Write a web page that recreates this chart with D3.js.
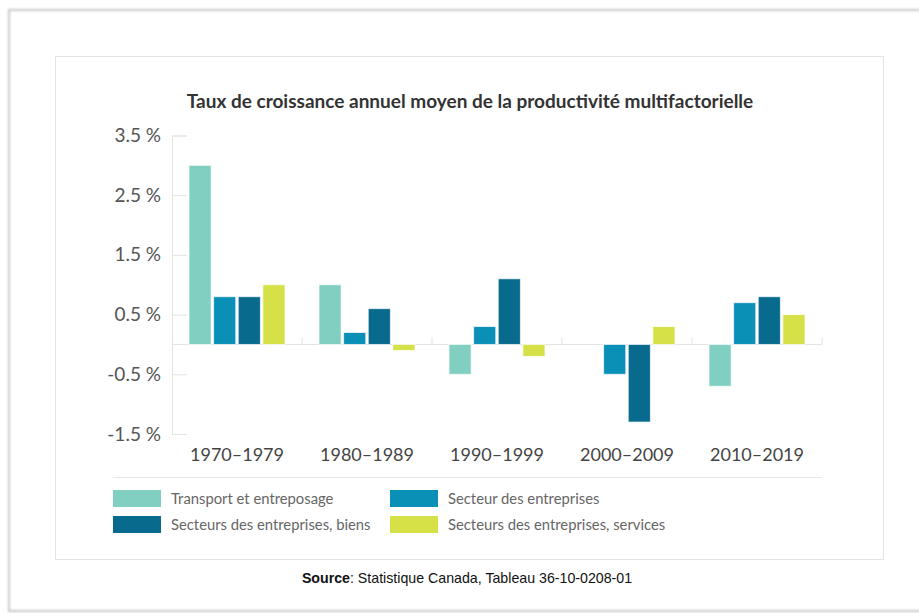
<!DOCTYPE html>
<html>
<head>
<meta charset="utf-8">
<script src="https://cdn.jsdelivr.net/npm/d3@7"></script>
<style>
  body { margin: 0; background: #fff; }
  svg { display: block; }
</style>
</head>
<body>
<div id="viz"></div>
<script>
// chart data
const periods = ['1970–1979', '1980–1989', '1990–1999', '2000–2009', '2010–2019'];
const seriesNames = [
  'Transport et entreposage',
  'Secteur des entreprises',
  'Secteurs des entreprises, biens',
  'Secteurs des entreprises, services'
];
const transport = [3.0, 1.0, -0.5, 0.0, -0.7];
const entreprises = [0.8, 0.2, 0.3, -0.5, 0.7];
const biens = [0.8, 0.6, 1.1, -1.3, 0.8];
const services = [1.0, -0.1, -0.2, 0.3, 0.5];
const yTicks = [-1.5, -0.5, 0.5, 1.5, 2.5, 3.5];
const colors = ['#80cfc0', '#0a8fb6', '#086a8c', '#d5e146'];

const width = 919;
const height = 613;

const svg = d3.select('#viz')
  .append('svg')
  .attr('width', width)
  .attr('height', height);

// soft frame around everything
const defs = svg.append('defs');
defs.append('filter').attr('id', 'blur')
  .append('feGaussianBlur').attr('stdDeviation', 1.2);

svg.append('rect')
  .attr('x', 9).attr('y', 10)
  .attr('width', 960).attr('height', 601)
  .attr('fill', 'none')
  .attr('stroke', '#c8c8c8')
  .attr('stroke-width', 2)
  .attr('filter', 'url(#blur)');

// inner card
svg.append('rect')
  .attr('x', 55.5).attr('y', 56.5)
  .attr('width', 828).attr('height', 503)
  .attr('fill', '#fff')
  .attr('stroke', '#e4e4e4')
  .attr('stroke-width', 1);

svg.append('text')
  .attr('x', 470).attr('y', 108)
  .attr('text-anchor', 'middle')
  .style('font-family', 'Lato')
  .style('font-weight', 700)
  .style('font-size', '19px')
  .attr('fill', '#333')
  .text('Taux de croissance annuel moyen de la productivité multifactorielle');

// scales
const x0 = d3.scaleBand()
  .domain(periods)
  .range([172, 822]);

const x1 = d3.scaleBand()
  .domain(seriesNames)
  .range([17, 113])
  .paddingInner(0.1);

const y = d3.scaleLinear()
  .domain([-1.5, 3.5])
  .range([434, 135.5]);

// y axis (plain hyphen for negatives, like the original)
const yAxis = svg.append('g')
  .attr('transform', 'translate(172,0)')
  .call(d3.axisLeft(y)
    .tickValues(yTicks)
    .tickSize(-15)
    .tickPadding(11)
    .tickFormat(d => d.toFixed(1) + ' %'));

yAxis.select('.domain').attr('stroke', '#e3e3e3');
yAxis.selectAll('.tick line').attr('stroke', '#e3e3e3');
yAxis.selectAll('.tick text')
  .style('font-family', 'Lato')
  .style('font-size', '19px')
  .attr('fill', '#555');

// zero line with category separators
svg.append('line')
  .attr('x1', 172).attr('x2', 822)
  .attr('y1', y(0)).attr('y2', y(0))
  .attr('stroke', '#e3e3e3');

svg.selectAll('.sep')
  .data(periods)
  .enter()
  .append('line')
  .attr('class', 'sep')
  .attr('x1', d => x0(d) + x0.bandwidth())
  .attr('x2', d => x0(d) + x0.bandwidth())
  .attr('y1', y(0))
  .attr('y2', y(0) - 7)
  .attr('stroke', '#e3e3e3');

// bars
const rows = periods.map((p, i) => ({
  period: p,
  values: [transport[i], entreprises[i], biens[i], services[i]]
}));

const groups = svg.selectAll('.grp')
  .data(rows)
  .enter()
  .append('g')
  .attr('class', 'grp')
  .attr('transform', d => `translate(${x0(d.period)},0)`);

groups.selectAll('rect')
  .data(d => d.values.map((v, j) => ({ name: seriesNames[j], value: v, j })))
  .enter()
  .filter(d => d.value !== 0)
  .append('rect')
  .attr('x', d => x1(d.name))
  .attr('y', d => y(Math.max(0, d.value)))
  .attr('width', x1.bandwidth())
  .attr('height', d => Math.abs(y(d.value) - y(0)))
  .attr('fill', d => colors[d.j])
  .attr('stroke', 'rgba(255,255,255,0.7)')
  .attr('stroke-width', 1);

// x labels
svg.selectAll('.xlab')
  .data(periods)
  .enter()
  .append('text')
  .attr('class', 'xlab')
  .attr('x', d => x0(d) + x0.bandwidth() / 2)
  .attr('y', 461)
  .attr('text-anchor', 'middle')
  .style('font-family', 'Lato')
  .style('font-size', '18px')
  .attr('fill', '#444')
  .text(d => d);

// legend
svg.append('line')
  .attr('x1', 113).attr('x2', 822)
  .attr('y1', 477.5).attr('y2', 477.5)
  .attr('stroke', '#e8e8e8');

const legendPos = [[113, 490], [390, 490], [113, 516], [390, 516]];
const order = [0, 1, 2, 3];

const legend = svg.selectAll('.leg')
  .data(order)
  .enter()
  .append('g')
  .attr('class', 'leg')
  .attr('transform', d => `translate(${legendPos[d][0]},${legendPos[d][1]})`);

legend.append('rect')
  .attr('width', 48).attr('height', 17)
  .attr('fill', d => colors[d]);

legend.append('text')
  .attr('x', 58).attr('y', 13.5)
  .style('font-family', 'Lato')
  .style('font-size', '14.8px')
  .attr('fill', '#666')
  .text(d => seriesNames[d]);

// source line
const src = svg.append('text')
  .attr('x', 467).attr('y', 583)
  .attr('text-anchor', 'middle')
  .style('font-family', 'Liberation Sans')
  .style('font-size', '14.2px')
  .attr('fill', '#111');
src.append('tspan').style('font-weight', 700).text('Source');
src.append('tspan').text(': Statistique Canada, Tableau 36-10-0208-01');
</script>
</body>
</html>
